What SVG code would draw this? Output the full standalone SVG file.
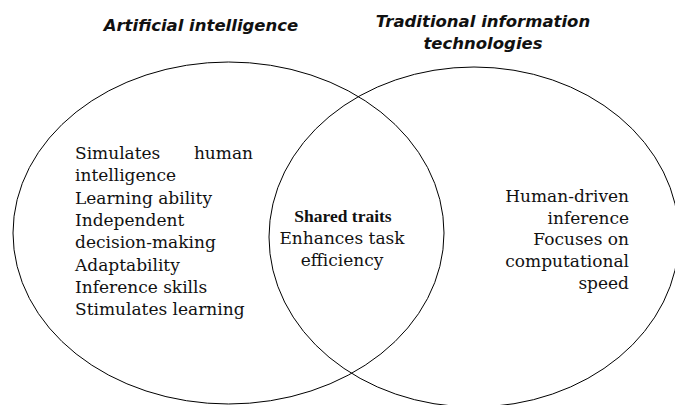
<svg xmlns="http://www.w3.org/2000/svg" width="675" height="405" viewBox="0 0 675 405">
  <style>
    .set { fill: none; stroke: #000; stroke-width: 1; }
    .title { font-family: "DejaVu Sans", "Liberation Sans", sans-serif; font-style: italic; font-weight: bold; font-size: 16.5px; fill: #111; }
    .body { font-family: "DejaVu Serif", "Liberation Serif", serif; font-size: 17px; fill: #111; }
    .bold { font-family: "Liberation Serif", "DejaVu Serif", serif; font-weight: bold; font-size: 17.5px; }
  </style>
  <rect width="675" height="405" fill="#fff"/>

  <g id="set-ai">
    <ellipse class="set" cx="228.5" cy="233" rx="215.5" ry="171"/>
    <text class="title" x="201" y="31" text-anchor="middle">Artificial intelligence</text>
    <text class="body" x="75" y="159" text-anchor="start">Simulates</text>
    <text class="body" x="253" y="159" text-anchor="end">human</text>
    <text class="body" x="75" y="181.3">intelligence</text>
    <text class="body" x="75" y="203.6">Learning ability</text>
    <text class="body" x="75" y="225.9">Independent</text>
    <text class="body" x="75" y="248.2">decision-making</text>
    <text class="body" x="75" y="270.5">Adaptability</text>
    <text class="body" x="75" y="292.8">Inference skills</text>
    <text class="body" x="75" y="315">Stimulates learning</text>
  </g>

  <g id="set-it">
    <ellipse class="set" cx="474" cy="237" rx="205" ry="170"/>
    <text class="title" x="483" y="27" text-anchor="middle">Traditional information</text>
    <text class="title" x="483" y="49" text-anchor="middle">technologies</text>
    <text class="body" x="629" y="202" text-anchor="end">Human-driven</text>
    <text class="body" x="629" y="223.7" text-anchor="end">inference</text>
    <text class="body" x="629" y="245.4" text-anchor="end">Focuses on</text>
    <text class="body" x="629" y="267.1" text-anchor="end">computational</text>
    <text class="body" x="629" y="288.8" text-anchor="end">speed</text>
  </g>

  <g id="shared">
    <text class="body bold" x="343" y="222" text-anchor="middle">Shared traits</text>
    <text class="body" x="342" y="244" text-anchor="middle">Enhances task</text>
    <text class="body" x="342" y="266" text-anchor="middle">efficiency</text>
  </g>

  <g id="connectors"/>
</svg>
